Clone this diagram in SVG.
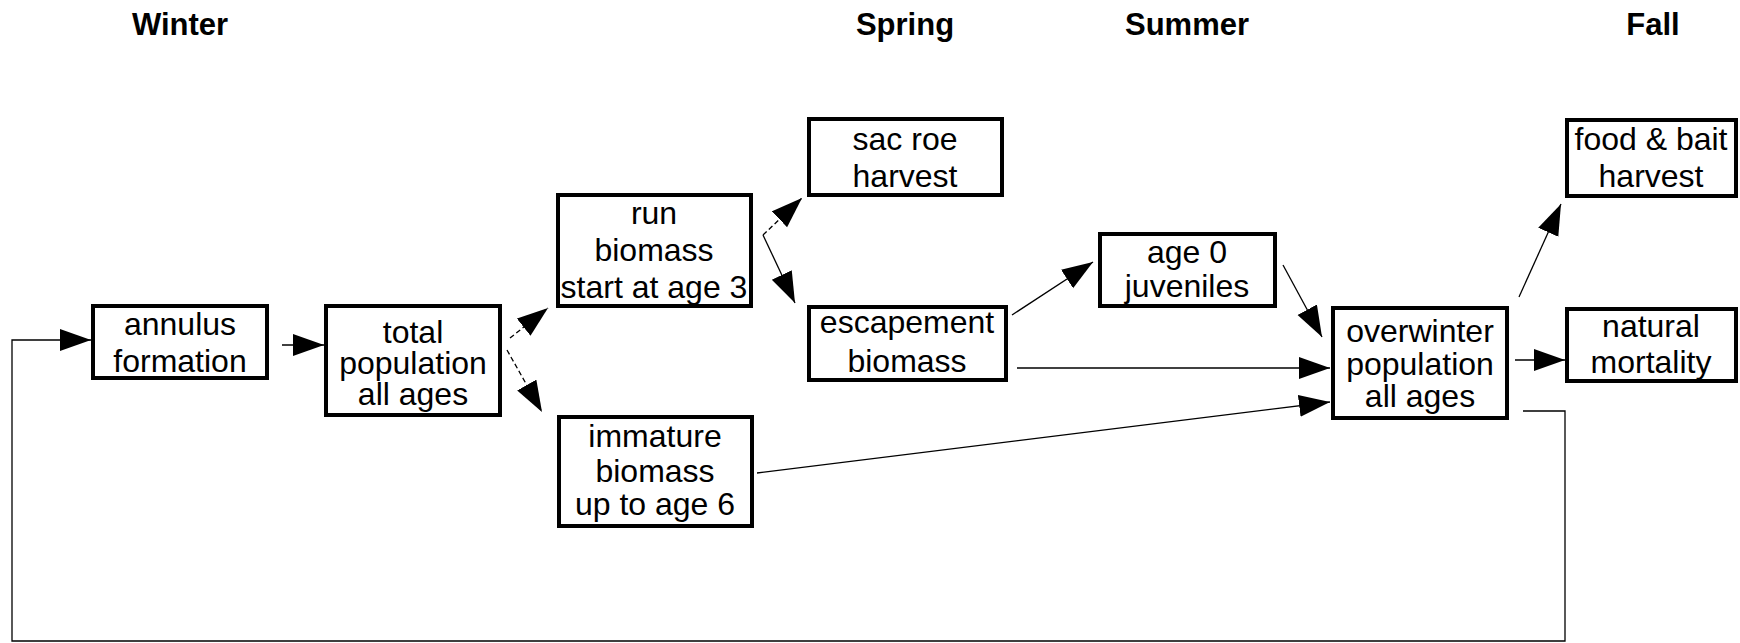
<svg xmlns="http://www.w3.org/2000/svg" width="1740" height="643" viewBox="0 0 1740 643">
<style>
.box{fill:#fff;stroke:#000;stroke-width:4}
.t{font-family:"Liberation Sans",Arial,sans-serif;font-size:32px;fill:#000;text-anchor:middle}
.h{font-family:"Liberation Sans",Arial,sans-serif;font-size:31px;font-weight:bold;fill:#000;text-anchor:middle}
.c{fill:none;stroke:#000;stroke-width:1.3}
.d{stroke-dasharray:5 3}
</style>
<defs>
<marker id="ah" markerUnits="userSpaceOnUse" markerWidth="33" markerHeight="23" refX="31" refY="11" orient="auto">
<path d="M0,0 L31,11 L0,22 z" fill="#000"/>
</marker>
</defs>
<rect width="1740" height="643" fill="#fff"/>
<g id="titles">
<text class="h" x="180" y="35">Winter</text>
<text class="h" x="905" y="35">Spring</text>
<text class="h" x="1187" y="35">Summer</text>
<text class="h" x="1653" y="35">Fall</text>
</g>
<g id="connectors">
<path class="c" d="M1523,411 H1565 V641 H12 V340 H91" marker-end="url(#ah)"/>
<path class="c" d="M282,345 L324,345" marker-end="url(#ah)"/>
<path class="c d" d="M510,338 L548,308" marker-end="url(#ah)"/>
<path class="c d" d="M507,350 L542,412" marker-end="url(#ah)"/>
<path class="c d" d="M763,235 L802,198" marker-end="url(#ah)"/>
<path class="c" d="M763,235 L795,303" marker-end="url(#ah)"/>
<path class="c" d="M1012,315 L1093,262" marker-end="url(#ah)"/>
<path class="c" d="M1017,368 L1330,368" marker-end="url(#ah)"/>
<path class="c" d="M757,473 L1330,402" marker-end="url(#ah)"/>
<path class="c" d="M1283,265 L1322,337" marker-end="url(#ah)"/>
<path class="c" d="M1519,297 L1561,204" marker-end="url(#ah)"/>
<path class="c" d="M1515,360 L1565,360" marker-end="url(#ah)"/>
</g>
<g id="annulus">
<rect class="box" x="93" y="306" width="174" height="72"/>
<text class="t" x="180" y="335">annulus</text>
<text class="t" x="180" y="372">formation</text>
</g>
<g id="total">
<rect class="box" x="326" y="306" width="174" height="109"/>
<text class="t" x="413" y="343">total</text>
<text class="t" x="413" y="374">population</text>
<text class="t" x="413" y="405">all ages</text>
</g>
<g id="run">
<rect class="box" x="558" y="195" width="193" height="111"/>
<text class="t" x="654" y="224">run</text>
<text class="t" x="654" y="261">biomass</text>
<text class="t" x="654" y="298">start at age 3</text>
</g>
<g id="immature">
<rect class="box" x="559" y="417" width="193" height="109"/>
<text class="t" x="655" y="447">immature</text>
<text class="t" x="655" y="482">biomass</text>
<text class="t" x="655" y="515">up to age 6</text>
</g>
<g id="sacroe">
<rect class="box" x="809" y="119" width="193" height="76"/>
<text class="t" x="905" y="150">sac roe</text>
<text class="t" x="905" y="187">harvest</text>
</g>
<g id="escapement">
<rect class="box" x="809" y="307" width="197" height="73"/>
<text class="t" x="907" y="333">escapement</text>
<text class="t" x="907" y="372">biomass</text>
</g>
<g id="age0">
<rect class="box" x="1100" y="234" width="175" height="72"/>
<text class="t" x="1187" y="263">age 0</text>
<text class="t" x="1187" y="297">juveniles</text>
</g>
<g id="overwinter">
<rect class="box" x="1333" y="308" width="174" height="110"/>
<text class="t" x="1420" y="342">overwinter</text>
<text class="t" x="1420" y="375">population</text>
<text class="t" x="1420" y="407">all ages</text>
</g>
<g id="foodbait">
<rect class="box" x="1567" y="120" width="169" height="76"/>
<text class="t" x="1651" y="150">food &amp; bait</text>
<text class="t" x="1651" y="187">harvest</text>
</g>
<g id="natural">
<rect class="box" x="1567" y="309" width="169" height="72"/>
<text class="t" x="1651" y="337">natural</text>
<text class="t" x="1651" y="373">mortality</text>
</g>
</svg>
